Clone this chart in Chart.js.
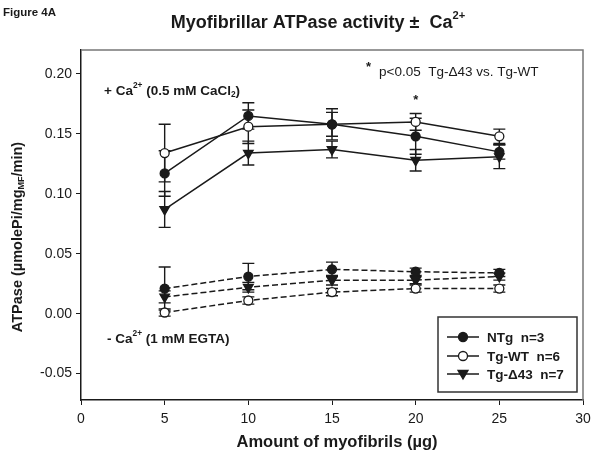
<!DOCTYPE html>
<html>
<head>
<meta charset="utf-8">
<script src="https://cdn.jsdelivr.net/npm/chart.js@4"></script>
<style>
  html, body { margin: 0; padding: 0; background: #fff; }
  #wrap { width: 600px; height: 463px; }
</style>
</head>
<body>
<div id="wrap"><canvas id="chart"></canvas></div>
<script>
// Data (x = amount of myofibrils, µg)
const amounts = [5, 10, 15, 20, 25];

// + Ca2+ (0.5 mM CaCl2)
const ntgCa = [0.117, 0.165, 0.158, 0.148, 0.135];
const ntgCaErr = [0.019, 0.011, 0.013, 0.015, 0.006];
const wtCa = [0.134, 0.156, 0.158, 0.160, 0.148];
const wtCaErr = [0.024, 0.014, 0.010, 0.007, 0.006];
const d43Ca = [0.087, 0.134, 0.137, 0.128, 0.131];
const d43CaErr = [0.015, 0.010, 0.007, 0.009, 0.010];

// - Ca2+ (1 mM EGTA)
const ntgEgta = [0.021, 0.031, 0.037, 0.035, 0.034];
const ntgEgtaErr = [0.018, 0.011, 0.006, 0.003, 0.003];
const wtEgta = [0.001, 0.011, 0.018, 0.021, 0.021];
const wtEgtaErr = [0.003, 0.003, 0.003, 0.003, 0.003];
const d43Egta = [0.014, 0.022, 0.028, 0.028, 0.031];
const d43EgtaErr = [0.005, 0.004, 0.004, 0.003, 0.003];

const xTicks = [0, 5, 10, 15, 20, 25, 30];
const yTicks = [-0.05, 0.00, 0.05, 0.10, 0.15, 0.20];

const seriesNames = ['NTg  n=3', 'Tg-WT  n=6', 'Tg-\u039443  n=7'];
const starAt = { x: 20, y: 0.178 };

const FONT = '"Liberation Sans", Arial, sans-serif';
const INK = '#1a1a1a';

const toPoints = vals => vals.map((v, i) => ({ x: amounts[i], y: v }));

const styles = [
  { pointStyle: 'circle', fill: INK, radius: 4.5, rot: 0 },
  { pointStyle: 'circle', fill: '#fff', radius: 4.5, rot: 0 },
  { pointStyle: 'triangle', fill: INK, radius: 5.5, rot: 180 }
];

function makeSet(label, vals, errs, kind, dashed) {
  const s = styles[kind];
  return {
    label: label,
    data: toPoints(vals),
    errors: errs,
    borderColor: INK,
    borderWidth: 1.5,
    borderDash: dashed ? [6, 3] : [],
    pointStyle: s.pointStyle,
    pointRotation: s.rot,
    pointRadius: s.radius,
    pointBackgroundColor: s.fill,
    pointBorderColor: INK,
    pointBorderWidth: 1.3,
    showLine: true,
    fill: false,
    tension: 0
  };
}

// draw a string made of pieces (normal / super / sub)
function richText(ctx, parts, x, y, size, bold, align) {
  ctx.textAlign = 'left';
  const w = parts.map(p => {
    const sz = p.s ? size * 0.62 : size;
    ctx.font = (bold ? 'bold ' : '') + sz + 'px ' + FONT;
    return ctx.measureText(p.t).width;
  });
  const total = w.reduce((a, b) => a + b, 0);
  let cx = align === 'center' ? x - total / 2 : x;
  parts.forEach((p, i) => {
    const sz = p.s ? size * 0.62 : size;
    ctx.font = (bold ? 'bold ' : '') + sz + 'px ' + FONT;
    let dy = 0;
    if (p.s === 'sup') dy = -size * 0.42;
    if (p.s === 'sub') dy = size * 0.25;
    ctx.fillText(p.t, cx, y + dy);
    cx += w[i];
  });
}

const errorBars = {
  id: 'errorBars',
  beforeDatasetsDraw(chart) {
    const ctx = chart.ctx;
    const ys = chart.scales.y;
    ctx.save();
    ctx.strokeStyle = INK;
    ctx.lineWidth = 1.4;
    chart.data.datasets.forEach((ds, i) => {
      const meta = chart.getDatasetMeta(i);
      meta.data.forEach((pt, j) => {
        const v = ds.data[j].y, e = ds.errors[j];
        const top = ys.getPixelForValue(v + e);
        const bot = ys.getPixelForValue(v - e);
        ctx.beginPath();
        ctx.moveTo(pt.x, top); ctx.lineTo(pt.x, bot);
        ctx.moveTo(pt.x - 6, top); ctx.lineTo(pt.x + 6, top);
        ctx.moveTo(pt.x - 6, bot); ctx.lineTo(pt.x + 6, bot);
        ctx.stroke();
      });
    });
    ctx.restore();
  }
};

const decorations = {
  id: 'decorations',
  afterDraw(chart) {
    const ctx = chart.ctx;
    const a = chart.chartArea;
    const xs = chart.scales.x, ys = chart.scales.y;
    ctx.save();

    // frame top/right
    ctx.strokeStyle = '#777';
    ctx.lineWidth = 1.5;
    ctx.beginPath();
    ctx.moveTo(a.left, a.top); ctx.lineTo(a.right, a.top); ctx.lineTo(a.right, a.bottom);
    ctx.stroke();

    ctx.fillStyle = INK;
    ctx.textBaseline = 'middle';
    ctx.textAlign = 'left';

    // figure tag and title
    ctx.font = 'bold 11.5px ' + FONT;
    ctx.fillText('Figure 4A', 3, 13);
    richText(ctx, [{ t: 'Myofibrillar ATPase activity \u00B1  Ca' }, { t: '2+', s: 'sup' }], 318, 23, 18, true, 'center');

    // condition labels
    richText(ctx, [{ t: '+ Ca' }, { t: '2+', s: 'sup' }, { t: ' (0.5 mM CaCl' }, { t: '2', s: 'sub' }, { t: ')' }], 104, 91, 13.5, true, 'left');
    richText(ctx, [{ t: '- Ca' }, { t: '2+', s: 'sup' }, { t: ' (1 mM EGTA)' }], 107, 339, 13.5, true, 'left');

    // significance note
    ctx.textAlign = 'left';
    ctx.font = 'bold 13px ' + FONT;
    ctx.fillText('*', 366, 67);
    ctx.font = '13.5px ' + FONT;
    ctx.fillText('p<0.05  Tg-\u039443 vs. Tg-WT', 379, 72);
    ctx.font = 'bold 13px ' + FONT;
    ctx.textAlign = 'center';
    ctx.fillText('*', xs.getPixelForValue(starAt.x), ys.getPixelForValue(starAt.y));

    // axis titles
    ctx.font = 'bold 16.5px ' + FONT;
    ctx.fillText('Amount of myofibrils (\u00B5g)', (a.left + a.right) / 2 + 5, 442);
    ctx.save();
    ctx.translate(18, (a.top + a.bottom) / 2 + 12);
    ctx.rotate(-Math.PI / 2);
    richText(ctx, [{ t: 'ATPase (\u00B5molePi/mg' }, { t: 'MF', s: 'sub' }, { t: '/min)' }], 0, 0, 14.5, true, 'center');
    ctx.restore();

    // legend box
    const lx = 438, ly = 317, lw = 139, lh = 75;
    ctx.fillStyle = '#fff';
    ctx.fillRect(lx, ly, lw, lh);
    ctx.strokeStyle = '#333';
    ctx.lineWidth = 1.5;
    ctx.strokeRect(lx, ly, lw, lh);
    const rows = [337, 356, 374];
    seriesNames.forEach((name, i) => {
      const s = styles[i];
      const y = rows[i];
      ctx.strokeStyle = INK;
      ctx.lineWidth = 1.5;
      ctx.beginPath(); ctx.moveTo(447, y); ctx.lineTo(479, y); ctx.stroke();
      ctx.fillStyle = s.fill;
      ctx.lineWidth = 1.3;
      ctx.beginPath();
      if (s.pointStyle === 'circle') {
        ctx.arc(463, y, s.radius, 0, Math.PI * 2);
      } else {
        ctx.moveTo(463 - 5, y - 3.5); ctx.lineTo(463 + 5, y - 3.5); ctx.lineTo(463, y + 5); ctx.closePath();
      }
      ctx.fill(); ctx.stroke();
      ctx.fillStyle = INK;
      ctx.textAlign = 'left';
      ctx.font = 'bold 13.5px ' + FONT;
      ctx.fillText(name, 487, y + 1);
    });

    ctx.restore();
  }
};

const ctx = document.getElementById('chart').getContext('2d');
new Chart(ctx, {
  type: 'line',
  data: {
    datasets: [
      makeSet(seriesNames[0], ntgCa, ntgCaErr, 0, false),
      makeSet(seriesNames[1], wtCa, wtCaErr, 1, false),
      makeSet(seriesNames[2], d43Ca, d43CaErr, 2, false),
      makeSet(seriesNames[0], ntgEgta, ntgEgtaErr, 0, true),
      makeSet(seriesNames[1], wtEgta, wtEgtaErr, 1, true),
      makeSet(seriesNames[2], d43Egta, d43EgtaErr, 2, true)
    ]
  },
  options: {
    responsive: true,
    maintainAspectRatio: false,
    animation: false,
    devicePixelRatio: 1,
    layout: { padding: { top: 50, right: 17, left: 0, bottom: 0 } },
    scales: {
      x: {
        type: 'linear',
        min: 0,
        max: 30,
        afterFit(scale) { scale.height = 63; },
        afterBuildTicks(scale) { scale.ticks = xTicks.map(v => ({ value: v })); },
        ticks: { color: INK, font: { family: FONT, size: 14 }, padding: 6, maxRotation: 0 },
        grid: { drawOnChartArea: false, tickLength: 5, color: INK },
        border: { color: INK, width: 1.5 }
      },
      y: {
        min: -0.072,
        max: 0.22,
        afterFit(scale) { scale.width = 81; },
        afterBuildTicks(scale) { scale.ticks = yTicks.map(v => ({ value: v })); },
        ticks: { color: INK, font: { family: FONT, size: 14 }, padding: 4, callback: v => v.toFixed(2) },
        grid: { drawOnChartArea: false, tickLength: 5, color: INK },
        border: { color: INK, width: 1.5 }
      }
    },
    plugins: {
      legend: { display: false },
      title: { display: false },
      tooltip: { enabled: false }
    }
  },
  plugins: [errorBars, decorations]
});
</script>
</body>
</html>
